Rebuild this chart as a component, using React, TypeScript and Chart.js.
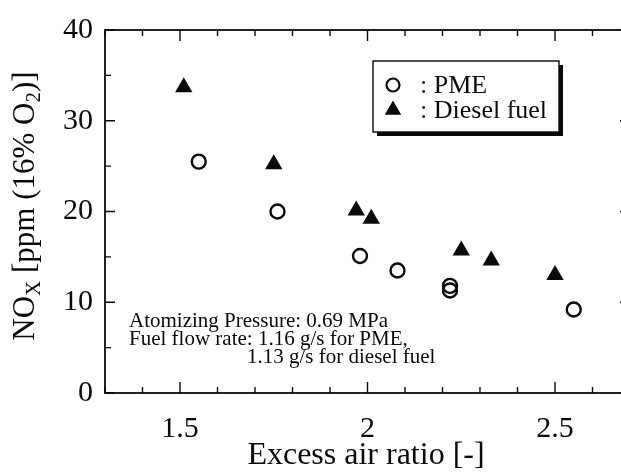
import React, { useEffect, useRef } from "react";
import { Chart, registerables } from "chart.js";

Chart.register(...registerables);

// Excess air ratio vs. NOx for the two fuels
const pmeRatio = [1.55, 1.76, 1.98, 2.08, 2.22, 2.22, 2.55];
const pmeNox = [25.5, 20.0, 15.1, 13.5, 11.8, 11.3, 9.2];
const dieselRatio = [1.51, 1.75, 1.97, 2.01, 2.25, 2.33, 2.5];
const dieselNox = [33.7, 25.2, 20.1, 19.2, 15.7, 14.6, 13.0];

const xTickValues = [1.5, 2, 2.5];
const yTickValues = [0, 10, 20, 30, 40];
const xMinorStep = 0.1;
const yMinorStep = 5;

const legendLabels = [": PME", ": Diesel fuel"];
const noteLines = [
  "Atomizing Pressure: 0.69 MPa",
  "Fuel flow rate: 1.16 g/s for PME,",
  "1.13 g/s for diesel fuel",
];
const xTitle = "Excess air ratio [-]";

const SERIF = "'Liberation Serif', 'Times New Roman', serif";
const INK = "#0a0a0a";

function drawTriangle(ctx: CanvasRenderingContext2D, x: number, y: number, r: number) {
  let rad = 0;
  const step = (Math.PI * 2) / 3;
  ctx.beginPath();
  ctx.moveTo(x + Math.sin(rad) * r, y - Math.cos(rad) * r);
  rad += step;
  ctx.lineTo(x + Math.sin(rad) * r, y - Math.cos(rad) * r);
  rad += step;
  ctx.lineTo(x + Math.sin(rad) * r, y - Math.cos(rad) * r);
  ctx.closePath();
  ctx.fillStyle = INK;
  ctx.fill();
}

function drawRing(ctx: CanvasRenderingContext2D, x: number, y: number, r: number) {
  ctx.beginPath();
  ctx.arc(x, y, r, 0, Math.PI * 2);
  ctx.lineWidth = 2.2;
  ctx.strokeStyle = INK;
  ctx.stroke();
}

const isMajor = (v: number, list: number[]) => list.some((t) => Math.abs(t - v) < 1e-6);

const decorations = {
  id: "decorations",
  afterDraw(chart: any) {
    const ctx: CanvasRenderingContext2D = chart.ctx;
    const { left, right, top, bottom } = chart.chartArea;
    const xs = chart.scales.x;
    const ys = chart.scales.y;
    ctx.save();

    // frame
    ctx.strokeStyle = INK;
    ctx.lineWidth = 1.8;
    ctx.strokeRect(left, top, right - left, bottom - top);

    // inward ticks on all four sides
    ctx.lineWidth = 1.4;
    ctx.beginPath();
    for (let i = 0; ; i++) {
      const v = xs.min + i * xMinorStep;
      if (v > xs.max + 1e-9) break;
      const px = xs.getPixelForValue(v);
      const len = isMajor(v, xTickValues) ? 11 : 6;
      ctx.moveTo(px, bottom);
      ctx.lineTo(px, bottom - len);
      ctx.moveTo(px, top);
      ctx.lineTo(px, top + len);
    }
    for (let i = 0; ; i++) {
      const v = ys.min + i * yMinorStep;
      if (v > ys.max + 1e-9) break;
      const py = ys.getPixelForValue(v);
      const len = isMajor(v, yTickValues) ? 10 : 6;
      ctx.moveTo(left, py);
      ctx.lineTo(left + len, py);
      ctx.moveTo(right, py);
      ctx.lineTo(right - len, py);
    }
    ctx.stroke();

    // x axis title
    ctx.fillStyle = INK;
    ctx.font = `32px ${SERIF}`;
    ctx.textAlign = "center";
    ctx.textBaseline = "alphabetic";
    ctx.fillText(xTitle, 366, 464);

    // y axis title with subscripts
    const size = 31;
    const subSize = 21;
    const parts = [
      { t: "NO", sub: false },
      { t: "X", sub: true },
      { t: " [ppm (16% O", sub: false },
      { t: "2", sub: true },
      { t: ")]", sub: false },
    ];
    let total = 0;
    for (const p of parts) {
      ctx.font = `${p.sub ? subSize : size}px ${SERIF}`;
      total += ctx.measureText(p.t).width;
    }
    ctx.save();
    ctx.translate(34, 206);
    ctx.rotate(-Math.PI / 2);
    ctx.textAlign = "left";
    let cx = -total / 2;
    for (const p of parts) {
      ctx.font = `${p.sub ? subSize : size}px ${SERIF}`;
      ctx.fillText(p.t, cx, p.sub ? 6 : 0);
      cx += ctx.measureText(p.t).width;
    }
    ctx.restore();

    // legend box with drop shadow
    const bx = 373, by = 61, bw = 186, bh = 71;
    ctx.fillStyle = INK;
    ctx.fillRect(bx + 4, by + 4, bw, bh);
    ctx.fillStyle = "#fff";
    ctx.fillRect(bx, by, bw, bh);
    ctx.strokeStyle = INK;
    ctx.lineWidth = 1.4;
    ctx.strokeRect(bx, by, bw, bh);
    drawRing(ctx, 393, 85, 6.5);
    drawTriangle(ctx, 393, 110, 9.5);
    ctx.fillStyle = INK;
    ctx.font = `26px ${SERIF}`;
    ctx.textAlign = "left";
    ctx.fillText(legendLabels[0], 420, 93);
    ctx.fillText(legendLabels[1], 420, 118);

    // operating conditions note
    ctx.font = `21px ${SERIF}`;
    ctx.fillText(noteLines[0], 129, 327);
    ctx.fillText(noteLines[1], 129, 345);
    ctx.fillText(noteLines[2], 247, 363);

    ctx.restore();
  },
};

export default function App() {
  const canvasRef = useRef<HTMLCanvasElement | null>(null);

  useEffect(() => {
    const canvas = canvasRef.current;
    if (!canvas) return;
    const chart = new Chart(canvas, {
      type: "scatter",
      data: {
        datasets: [
          {
            label: "PME",
            data: pmeRatio.map((x, i) => ({ x, y: pmeNox[i] })),
            pointStyle: "circle",
            pointRadius: 7,
            pointBorderWidth: 2.4,
            borderColor: INK,
            backgroundColor: "rgba(0,0,0,0)",
          },
          {
            label: "Diesel fuel",
            data: dieselRatio.map((x, i) => ({ x, y: dieselNox[i] })),
            pointStyle: "triangle",
            pointRadius: 10,
            pointBorderWidth: 0,
            borderColor: INK,
            backgroundColor: INK,
          },
        ],
      },
      options: {
        animation: false,
        responsive: false,
        devicePixelRatio: 1,
        layout: { padding: { top: 24, right: 10, left: 0, bottom: 0 } },
        plugins: {
          legend: { display: false },
          tooltip: { enabled: false },
          title: { display: false },
        },
        scales: {
          x: {
            type: "linear",
            min: 1.3,
            max: 2.7,
            grid: { display: false, drawTicks: false },
            border: { display: false },
            ticks: {
              color: INK,
              font: { family: SERIF, size: 30 },
              padding: 18,
              maxRotation: 0,
              autoSkip: false,
              callback: (v: any) => String(v),
            },
            afterBuildTicks: (s: any) => {
              s.ticks = xTickValues.map((value) => ({ value }));
            },
            afterFit: (s: any) => {
              s.height = 80;
            },
          },
          y: {
            type: "linear",
            min: 0,
            max: 40,
            grid: { display: false, drawTicks: false },
            border: { display: false },
            ticks: {
              color: INK,
              font: { family: SERIF, size: 30 },
              padding: 12,
              autoSkip: false,
              callback: (v: any) => String(v),
            },
            afterBuildTicks: (s: any) => {
              s.ticks = yTickValues.map((value) => ({ value }));
            },
            afterFit: (s: any) => {
              s.width = 105;
            },
          },
        },
      },
      plugins: [decorations],
    });
    return () => chart.destroy();
  }, []);

  return (
    <div
      style={{
        position: "fixed",
        left: 0,
        top: 0,
        width: 621,
        height: 473,
        overflow: "hidden",
        background: "#fff",
      }}
    >
      <canvas ref={canvasRef} width={640} height={473} style={{ display: "block" }} />
    </div>
  );
}
